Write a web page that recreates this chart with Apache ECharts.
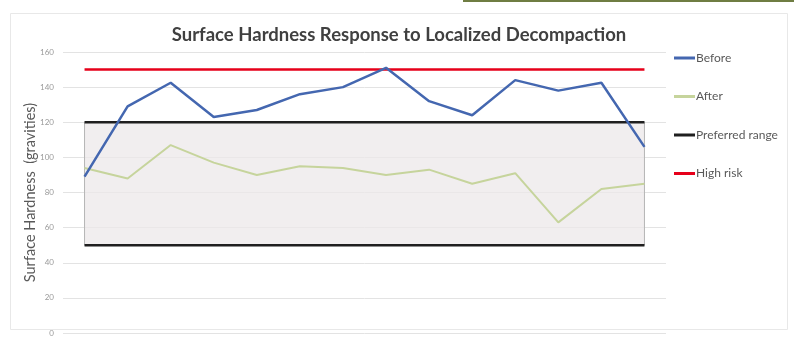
<!DOCTYPE html>
<html>
<head>
<meta charset="utf-8">
<script src="https://cdn.jsdelivr.net/npm/echarts@6/dist/echarts.min.js"></script>
<style>
  html, body { margin: 0; padding: 0; background: #ffffff; }
  #chart { width: 794px; height: 345px; }
</style>
</head>
<body>
<div id="chart"></div>
<script>
// Sampling points along the turf (14 locations)
const categories = ['1', '2', '3', '4', '5', '6', '7', '8', '9', '10', '11', '12', '13', '14'];

// Surface hardness readings, gravities
const before = [89, 129, 142.5, 123, 127, 136, 140, 151, 132, 124, 144, 138, 142.5, 106];
const after = [94, 88, 107, 97, 90, 95, 94, 90, 93, 85, 91, 63, 82, 85];

// Thresholds
const preferredRange = [50, 120];
const highRisk = 150;

const yTicks = { min: 0, max: 160, interval: 20 };

const flat = v => categories.map(() => v);

const chart = echarts.init(document.getElementById('chart'), null, { renderer: 'canvas' });

const textColor = '#595959';
const font = 'Lato, "Open Sans", sans-serif';

chart.setOption({
  animation: false,
  backgroundColor: '#ffffff',
  title: {
    text: 'Surface Hardness Response to Localized Decompaction',
    left: 394,
    textAlign: 'center',
    top: 21,
    textStyle: { fontFamily: font, fontWeight: 'bold', fontSize: 18.5, color: '#404040' }
  },
  graphic: [
    { type: 'rect', shape: { x: 10.5, y: 13.5, width: 777, height: 316 },
      style: { fill: 'none', stroke: '#e8e8e8', lineWidth: 1 }, z: -1 },
    { type: 'rect', shape: { x: 463, y: 0, width: 331, height: 2 },
      style: { fill: '#6f7d43' } }
  ],
  legend: {
    orient: 'vertical',
    left: 669,
    top: 47,
    itemGap: 26.5,
    icon: 'rect',
    itemWidth: 21,
    itemHeight: 3,
    textStyle: { fontFamily: font, fontSize: 12, color: textColor, padding: [0, 0, 0, -4] },
    data: ['Before', 'After', 'Preferred range', 'High risk']
  },
  grid: { left: 63, top: 52, width: 603, height: 281 },
  xAxis: {
    type: 'category',
    data: categories,
    boundaryGap: true,
    axisLine: { show: false },
    axisTick: { show: false },
    axisLabel: { show: false }
  },
  yAxis: {
    type: 'value',
    min: yTicks.min,
    max: yTicks.max,
    interval: yTicks.interval,
    name: 'Surface Hardness  (gravities)',
    nameLocation: 'middle',
    nameGap: 25,
    nameMoveOverlap: false,
    nameTextStyle: { fontFamily: font, fontSize: 14.5, color: textColor },
    axisLine: { show: false },
    axisTick: { show: false },
    axisLabel: { fontFamily: font, fontSize: 8, color: '#9a9a9a', margin: 9 },
    splitLine: { lineStyle: { color: '#e3e3e3', width: 1 } }
  },
  series: [
    {
      name: 'Preferred range',
      type: 'line',
      data: flat(preferredRange[1]),
      symbol: 'none',
      lineStyle: { color: '#1f1f1f', width: 2.5 },
      itemStyle: { color: '#1f1f1f' },
      z: 3,
      markArea: {
        silent: true,
        itemStyle: { color: 'rgba(236,232,234,0.75)', borderColor: '#b5b5b5', borderWidth: 1 },
        data: [[
          { xAxis: categories[0], yAxis: preferredRange[0] },
          { xAxis: categories[categories.length - 1], yAxis: preferredRange[1] }
        ]]
      }
    },
    {
      name: 'Preferred range',
      type: 'line',
      data: flat(preferredRange[0]),
      symbol: 'none',
      lineStyle: { color: '#1f1f1f', width: 2.5 },
      itemStyle: { color: '#1f1f1f' },
      z: 3
    },
    {
      name: 'High risk',
      type: 'line',
      data: flat(highRisk),
      symbol: 'none',
      lineStyle: { color: '#e6001a', width: 2.5 },
      itemStyle: { color: '#e6001a' },
      z: 3
    },
    {
      name: 'After',
      type: 'line',
      data: after,
      symbol: 'none',
      lineStyle: { color: '#c6d49c', width: 2 },
      itemStyle: { color: '#c6d49c' },
      z: 4
    },
    {
      name: 'Before',
      type: 'line',
      data: before,
      symbol: 'none',
      lineStyle: { color: '#4467b0', width: 2.5 },
      itemStyle: { color: '#4467b0' },
      z: 5
    }
  ]
});
</script>
</body>
</html>
